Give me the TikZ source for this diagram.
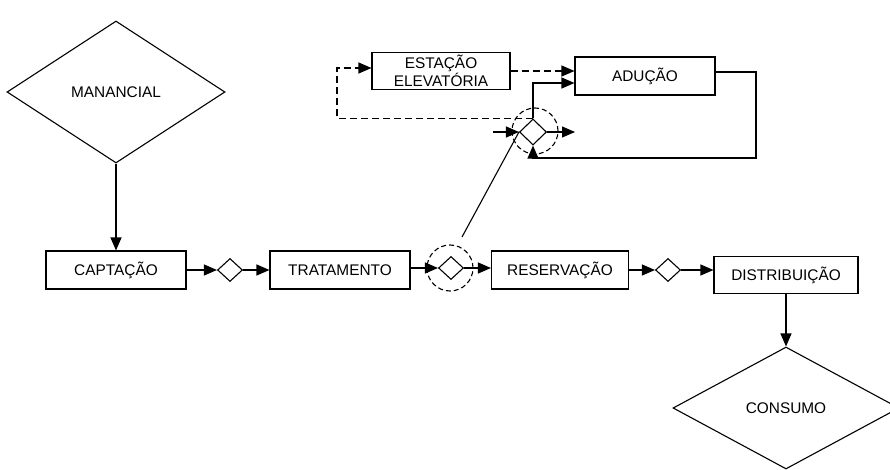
\documentclass[tikz,border=0pt]{standalone}
\usepackage{fontspec}
\setmainfont{Liberation Sans}
\usetikzlibrary{shapes.geometric,arrows.meta}
\tikzset{%
  stage/.style    = {shape=rectangle, draw, align=center,%
                     minimum height=38pt, inner sep=2pt},%
  source/.style   = {shape=diamond, draw, inner sep=0pt},%
  junction/.style = {shape=diamond, draw, inner sep=0pt,%
                     minimum width=25pt, minimum height=23pt},%
  ring/.style     = {circle, draw, dash pattern=on 5pt off 3pt,%
                     inner sep=0pt, minimum size=46pt},%
  flow/.style     = {-{Triangle[length=13pt,width=11pt]}},%
  pumped/.style   = {flow, dash pattern=on 7pt off 4pt}%
}

\begin{document}
\begin{tikzpicture}[x=1pt,y=-1pt,line width=1.1pt,
	every node/.style = {font=\fontsize{15.4}{18}\selectfont}]
		\useasboundingbox (0,0) rectangle (890,470);
		\node [source, minimum width=218pt, minimum height=142pt] (manancial) at (116,92) {MANANCIAL};
		\node [stage, minimum width=140pt] (captacao) at (116,270) {CAPTAÇÃO};
		\node [junction] (j1) at (230,270) {};
		\node [stage, minimum width=140pt] (tratamento) at (340,270) {TRATAMENTO};
		\node [junction] (j2) at (451,268) {};
		\node [ring] (ring1) at (450,268) {};
		\node [stage, minimum width=137pt] (reservacao) at (560,270) {RESERVAÇÃO};
		\node [junction] (j3) at (668,270) {};
		\node [stage, minimum width=144pt, minimum height=37pt] (distribuicao) at (786,275) {DISTRIBUIÇÃO};
		\node [source, minimum width=226pt, minimum height=122pt] (consumo) at (786,408) {CONSUMO};
		\node [stage, minimum width=138pt, minimum height=37pt] (estacao) at (441,71) {ESTAÇÃO\\ELEVATÓRIA};
		\node [stage, minimum width=140pt] (aducao) at (645,76) {ADUÇÃO};
		\node [junction, minimum width=27pt, minimum height=26pt] (j4) at (533,132) {};
		\node [ring] (ring2) at (535,131) {};
		\coordinate (riser) at (462,237);
		\coordinate (inlet) at (493,132);
		\coordinate (outlet) at (575,132);
		\coordinate (bypass) at (337,117);
		\coordinate (back) at (756,158);

		\draw [flow] (manancial.south) -- (captacao.north);
		\draw [flow] (captacao.east) -- (j1.west);
		\draw [flow] (j1.east) -- (tratamento.west);
		\draw [flow] (tratamento.east |- j2) -- (j2.west);
		\draw [flow] (j2.east) -- (reservacao.west |- j2);
		\draw [flow] (reservacao.east) -- (j3.west);
		\draw [flow] (j3.east) -- (distribuicao.west |- j3);
		\draw [flow] (distribuicao.south) -- (consumo.north);

		\draw (riser) -- (j4.west);
		\draw [flow] (inlet) -- (j4.west);
		\draw [flow] (j4.east) -- (outlet);
		\draw [flow] (j4.north) |- ([yshift=-7pt]aducao.west);
		\draw [pumped] (estacao.east) -- (estacao.east -| aducao.west);
		\draw [pumped] (j4.north) -- (j4.north -| bypass) |- ([yshift=3pt]estacao.west);
		\draw [flow] ([yshift=4pt]aducao.east) -| (back) -| (j4.south);
	\end{tikzpicture}
\end{document}
